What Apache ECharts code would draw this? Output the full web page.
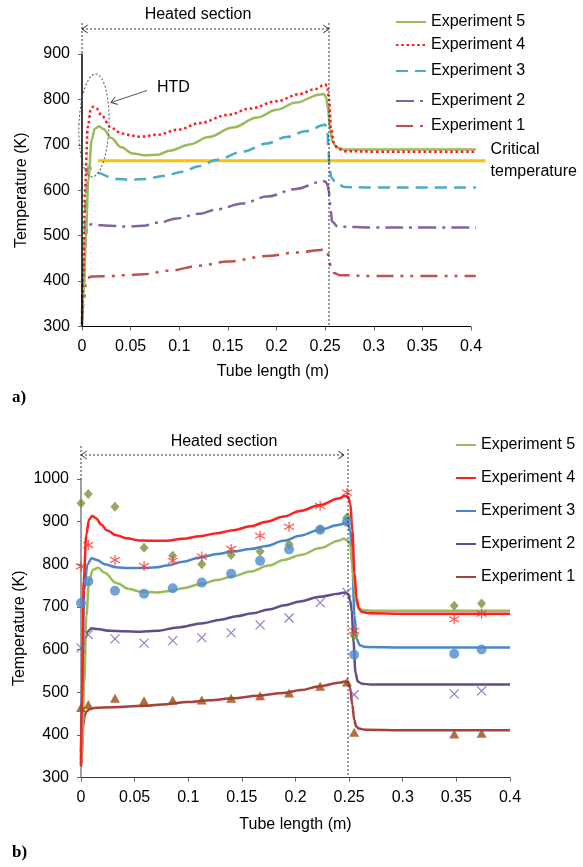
<!DOCTYPE html>
<html><head><meta charset="utf-8">
<script src="https://cdn.jsdelivr.net/npm/echarts@6/dist/echarts.min.js"></script>
<style>html,body{margin:0;padding:0;background:#fff}#c{width:583px;height:867px}</style>
</head><body><div id="c"></div>
<script>
const FONT = '"Liberation Sans", Arial, Helvetica, sans-serif';
const xTickVals = [0, 0.05, 0.1, 0.15, 0.2, 0.25, 0.3, 0.35, 0.4];
// ---------- (a) simulation curves ----------
const a5x = [0, 0.002, 0.004, 0.0065, 0.01, 0.013, 0.0175, 0.022, 0.03, 0.04, 0.052, 0.065, 0.077, 0.09, 0.111, 0.13, 0.155, 0.18, 0.2, 0.22, 0.245, 0.2485, 0.251, 0.253, 0.255, 0.258, 0.262, 0.27, 0.3, 0.35, 0.405];
const a5y = [320, 380, 500, 623, 711, 735, 741, 735, 715, 695, 681, 677, 678, 687, 701, 717, 738, 760, 777, 793, 811, 812, 805, 780, 735, 705, 694, 690, 690, 690, 690];
const a4x = [0, 0.0015, 0.003, 0.006, 0.009, 0.0116, 0.015, 0.02, 0.029, 0.038, 0.046, 0.06, 0.077, 0.1, 0.121, 0.15, 0.173, 0.2, 0.224, 0.24, 0.25, 0.252, 0.254, 0.256, 0.259, 0.263, 0.27, 0.3, 0.35, 0.405];
const a4y = [305, 420, 600, 740, 778, 784, 780, 765, 740, 728, 722, 718, 722, 734, 748, 766, 780, 796, 812, 823, 833, 830, 800, 735, 705, 692, 686, 685, 685, 685];
const a3x = [0, 0.002, 0.004, 0.0065, 0.01, 0.0185, 0.027, 0.036, 0.05, 0.066, 0.085, 0.104, 0.12, 0.139, 0.165, 0.19, 0.21, 0.23, 0.25, 0.252, 0.2535, 0.2545, 0.2567, 0.261, 0.27, 0.3, 0.35, 0.405];
const a3y = [300, 450, 590, 652, 648, 637, 630, 625, 623, 625, 632, 641, 653, 667, 685, 703, 717, 730, 744, 735, 690, 645, 627, 616, 607, 606, 606, 606];
const a2x = [0, 0.002, 0.004, 0.0055, 0.01, 0.02, 0.029, 0.045, 0.063, 0.08, 0.097, 0.12, 0.139, 0.165, 0.19, 0.22, 0.245, 0.25, 0.2525, 0.2535, 0.256, 0.257, 0.263, 0.3, 0.35, 0.405];
const a2y = [330, 420, 500, 523, 525, 523, 522, 520, 522, 529, 538, 548, 558, 571, 586, 603, 618, 620, 612, 600, 553, 531, 520, 518, 518, 518];
const a1x = [0, 0.002, 0.004, 0.006, 0.01, 0.029, 0.045, 0.063, 0.09, 0.121, 0.15, 0.19, 0.22, 0.25, 0.2525, 0.254, 0.256, 0.259, 0.265, 0.3, 0.35, 0.405];
const a1y = [312, 360, 395, 407, 410, 411, 413, 415, 423, 434, 443, 455, 463, 469, 465, 445, 430, 418, 413, 411, 411, 411];
const critX = [0.0165, 0.415];
const critY = [665, 665];
// ---------- (b) simulation curves ----------
const b5x = [0, 0.001, 0.003, 0.005, 0.0075, 0.011, 0.016, 0.022, 0.033, 0.045, 0.055, 0.071, 0.085, 0.095, 0.111, 0.127, 0.142, 0.158, 0.175, 0.189, 0.205, 0.223, 0.24, 0.245, 0.249, 0.251, 0.253, 0.255, 0.257, 0.259, 0.262, 0.27, 0.3, 0.35, 0.4];
const b5y = [330, 350, 520, 680, 760, 787, 792, 780, 756, 742, 736, 734, 738, 744, 753, 763, 772, 783, 797, 810, 822, 838, 855, 860, 855, 845, 800, 740, 710, 698, 693, 691, 691, 691, 691];
const b4x = [0, 0.001, 0.0025, 0.005, 0.0075, 0.0105, 0.014, 0.019, 0.024, 0.033, 0.043, 0.054, 0.064, 0.08, 0.095, 0.111, 0.127, 0.142, 0.158, 0.173, 0.189, 0.204, 0.223, 0.24, 0.246, 0.249, 0.251, 0.253, 0.255, 0.257, 0.259, 0.262, 0.27, 0.3, 0.35, 0.4];
const b4y = [330, 500, 760, 870, 905, 913, 908, 893, 880, 868, 861, 856, 855, 855, 860, 866, 873, 880, 889, 900, 912, 925, 939, 954, 960, 958, 945, 880, 780, 720, 696, 688, 685, 684, 684, 684];
const b3x = [0, 0.001, 0.003, 0.006, 0.01, 0.015, 0.022, 0.033, 0.045, 0.058, 0.07, 0.08, 0.095, 0.111, 0.127, 0.142, 0.158, 0.173, 0.189, 0.204, 0.223, 0.24, 0.246, 0.249, 0.251, 0.253, 0.255, 0.257, 0.26, 0.265, 0.3, 0.35, 0.4];
const b3y = [340, 520, 740, 800, 814, 810, 800, 793, 791, 791, 793, 797, 806, 816, 824, 830, 836, 843, 855, 867, 881, 892, 896, 895, 880, 800, 680, 625, 610, 606, 605, 605, 605];
const b2x = [0, 0.002, 0.004, 0.006, 0.01, 0.015, 0.027, 0.04, 0.055, 0.071, 0.09, 0.114, 0.13, 0.145, 0.16, 0.175, 0.19, 0.204, 0.223, 0.24, 0.246, 0.249, 0.251, 0.2525, 0.254, 0.256, 0.258, 0.262, 0.27, 0.3, 0.4];
const b2y = [360, 560, 625, 642, 650, 648, 644, 643, 642, 644, 652, 662, 670, 678, 685, 694, 704, 713, 724, 731, 734, 730, 715, 690, 620, 545, 525, 520, 518, 518, 518];
const b1x = [0, 0.001, 0.002, 0.0035, 0.005, 0.008, 0.012, 0.03, 0.058, 0.08, 0.099, 0.12, 0.142, 0.165, 0.189, 0.205, 0.223, 0.24, 0.246, 0.249, 0.251, 0.253, 0.2547, 0.2565, 0.259, 0.265, 0.3, 0.4];
const b1y = [326, 380, 420, 445, 455, 460, 463, 465, 468, 472, 477, 481, 486, 492, 498, 505, 514, 522, 525, 523, 510, 470, 436, 420, 415, 412, 411, 411];
// ---------- (b) measured points ----------
const markX = [0, 0.0068, 0.0317, 0.0588, 0.0855, 0.1126, 0.14, 0.167, 0.194, 0.223, 0.248, 0.2547, 0.348, 0.3735];
const m5 = [943, 965, 935, 839, 820, 800, 822, 830, 847, 882, 910, 633, 703, 708];
const m4 = [795, 845, 810, 796, 808, 818, 836, 867, 888, 937, 968, 644, 671, 684];
const m3 = [709, 760, 738, 731, 744, 757, 778, 808, 835, 881, 900, 588, 590, 600];
const m2 = [604, 635, 625, 615, 621, 628, 639, 658, 674, 710, 734, 494, 496, 503];
const m1 = [464, 471, 486, 480, 482, 482, 486, 492, 498, 514, 524, 406, 402, 404];
const labels = {a5:'Experiment 5', a4:'Experiment 4', a3:'Experiment 3', a2:'Experiment 2', a1:'Experiment 1',
                b5:'Experiment 5', b4:'Experiment 4', b3:'Experiment 3', b2:'Experiment 2', b1:'Experiment 1'};

const zip = (xs, ys) => xs.map((x, i) => [x, ys[i]]);
const txt = {fontSize:16, color:'#000', fontFamily:FONT};

function lineS(name, g, xs, ys, color, type, width) {
  return {name, type:'line', xAxisIndex:g, yAxisIndex:g, data:zip(xs, ys), showSymbol:false, symbol:'none',
    smooth:0.35, smoothMonotone:'x', clip:false, animation:false, z:2,
    lineStyle:{color, width:width||2.5, type:type||'solid', cap:'butt'}, itemStyle:{color}};
}
function markS(ys, symbol, size, style) {
  return {type:'scatter', xAxisIndex:1, yAxisIndex:1, data:zip(markX, ys), symbol, symbolSize:size,
    animation:false, z:3, itemStyle:style};
}
const XSYM = 'path://M0,0L10,10M10,0L0,10';
const STAR = 'path://M5,0L5,10M0.5,2.2L9.5,7.8M9.5,2.2L0.5,7.8';

function xAx(g, max, name, gap, lc, showLine, namePad) {
  return {gridIndex:g, type:'value', min:0, max, interval:0.05, name, nameLocation:'middle', nameGap:gap,
    nameTextStyle:Object.assign({padding:namePad}, txt), axisLine:{show:showLine, onZero:false, lineStyle:{color:lc, width:1}},
    axisTick:{show:true, length:4, customValues:xTickVals, lineStyle:{color:'#666'}},
    axisLabel:Object.assign({margin:12, customValues:xTickVals}, txt),
    splitLine:{show:false}};
}
function yAx(g, min, max, lc, gap, z) {
  return {gridIndex:g, type:'value', min, max, interval:100, name:'Temperature (K)', nameLocation:'middle', nameGap:gap,
    z, nameMoveOverlap:false, nameRotate:90, nameTextStyle:txt, axisLine:{show:true, lineStyle:{color:lc, width:1.5}},
    axisTick:{show:true, length:4, lineStyle:{color:'#666'}},
    axisLabel:Object.assign({margin:12, formatter:v => String(v)}, txt),
    splitLine:{show:false}};
}
const legBase = {orient:'vertical', padding:0, itemHeight:14, selectedMode:false, formatter:n => labels[n],
  textStyle:txt, itemStyle:{opacity:0}};
function topLegend(name, top) {
  return Object.assign({}, legBase, {data:[name], left:395, top, itemWidth:30});
}

const option = {
  animation:false,
  backgroundColor:'#fff',
  grid:[{left:82, top:54, width:403.6, height:272.5, outerBoundsMode:'none'},
        {left:81, top:479, width:429, height:298.5, outerBoundsMode:'none'}],
  xAxis:[xAx(0, 0.415, 'Tube length (m)', 37, '#000', false, [0, 22, 0, 0]),
         xAx(1, 0.4, 'Tube length (m)', 39, '#333', true, 0)],
  yAxis:[yAx(0, 300, 900, '#000', 52, 4), yAx(1, 300, 1000, '#808080', 53, 0)],
  legend:[
    topLegend('a5', 14), topLegend('a4', 37), topLegend('a3', 63), topLegend('a2', 93), topLegend('a1', 118),
    Object.assign({}, legBase, {data:['b5','b4','b3','b2','b1'], left:455, top:437, itemWidth:20, itemGap:17})
  ],
  series:[
    Object.assign(lineS('crit', 0, critX, critY, '#FFC000', 'solid', 3), {smooth:false,
      endLabel:{show:true, formatter:'Critical\ntemperature', distance:5, align:'left', verticalAlign:'middle',
        lineHeight:22, fontSize:16, color:'#000', fontFamily:FONT},
      markLine:{silent:true, symbol:['none','none'], label:{show:false}, animation:false,
        lineStyle:{color:'#000', type:'solid', width:1},
        data:[[{coord:[xTickVals[0], 300]}, {coord:[xTickVals[xTickVals.length - 1], 300]}]]}}),
    lineS('a1', 0, a1x, a1y, '#C0504D', [17, 7, 3, 7, 3, 7]),
    lineS('a2', 0, a2x, a2y, '#8064A2', [18, 6, 3, 6]),
    lineS('a3', 0, a3x, a3y, '#4BACC6', [12, 7]),
    lineS('a5', 0, a5x, a5y, '#9BBB59', 'solid'),
    lineS('a4', 0, a4x, a4y, '#FF1A1A', [2.5, 2.8]),
    lineS('b1', 1, b1x, b1y, '#A8403C'),
    lineS('b2', 1, b2x, b2y, '#634C8C'),
    lineS('b3', 1, b3x, b3y, '#4A86C8'),
    lineS('b5', 1, b5x, b5y, '#9BBB59'),
    lineS('b4', 1, b4x, b4y, '#FF1F1F'),
    markS(m1, 'triangle', [10, 9], {color:'#9C4A17'}),
    markS(m2, XSYM, 9, {color:'rgba(0,0,0,0)', borderColor:'#7E5BB0', borderWidth:1.2}),
    markS(m5, 'diamond', [9, 10], {color:'#77933C'}),
    markS(m3, 'circle', 10, {color:'#4F8BD0'}),
    markS(m4, STAR, 10, {color:'rgba(0,0,0,0)', borderColor:'#FF2A2A', borderWidth:1.2})
  ]
};

const chart = echarts.init(document.getElementById('c'), null, {renderer:'canvas'});
chart.setOption(option);

// ---------- annotations ----------
const P = (g, x, y) => chart.convertToPixel({gridIndex:g}, [x, y]);
const DOT = {stroke:'#333', lineWidth:1, lineDash:[2, 2], fill:null};
const SOLID = {stroke:'#333', lineWidth:1, fill:null};
function seg(x1, y1, x2, y2, st) { return {type:'line', silent:true, z:10, shape:{x1, y1, x2, y2}, style:Object.assign({}, st)}; }
function head(tx, ty, dx, dy, L) {
  const n = Math.hypot(dx, dy), ux = dx / n, uy = dy / n, a = 0.6;
  const c = Math.cos(a), s = Math.sin(a);
  const r1 = [ux * c - uy * s, ux * s + uy * c], r2 = [ux * c + uy * s, -ux * s + uy * c];
  return {type:'polyline', silent:true, z:10, shape:{points:[[tx - L * r1[0], ty - L * r1[1]], [tx, ty], [tx - L * r2[0], ty - L * r2[1]]]},
    style:Object.assign({}, SOLID)};
}
function label(text, x, y, extra) {
  return {type:'text', silent:true, z:10, x, y, style:Object.assign({text, fill:'#000', font:'16px ' + FONT,
    align:'center', verticalAlign:'middle'}, extra || {})};
}
const g = [];
// (a)
const aTL = P(0, 0, 900), aBL = P(0, 0, 300), aHE = P(0, 0.254, 300);
const ayA = aTL[1] - 25;
g.push(seg(aTL[0], aTL[1] - 31, aTL[0], aTL[1], DOT));
g.push(seg(aHE[0], aTL[1] - 31, aHE[0], aBL[1], DOT));
g.push(seg(aTL[0], ayA, aHE[0], ayA, DOT));
g.push(head(aTL[0], ayA, -1, 0, 7), head(aHE[0], ayA, 1, 0, 7));
g.push(label('Heated section', aTL[0] + 116, aTL[1] - 39));
const eC = P(0, 0.0123, 743);
g.push({type:'ellipse', silent:true, z:10, x:eC[0], y:eC[1], rotation:-0.035, shape:{cx:0, cy:0, rx:15, ry:51.5},
  style:{stroke:'#555', lineWidth:1, lineDash:[2, 2], fill:null}});
const hs = [eC[0] + 53, eC[1] - 34.8], he = [eC[0] + 17, eC[1] - 22.8];
g.push(seg(hs[0], hs[1], he[0], he[1], {stroke:'#555', lineWidth:1, fill:null}));
g.push(head(he[0], he[1], he[0] - hs[0], he[1] - hs[1], 7));
g.push(label('HTD', eC[0] + 63, eC[1] - 37.5, {align:'left'}));
g.push({type:'text', silent:true, z:10, x:12, y:398, style:{text:'a)', fill:'#000', font:'bold 17px "Liberation Serif", serif', align:'left', verticalAlign:'middle'}});
// (b)
const bTL = P(1, 0, 1000), bBL = P(1, 0, 300), bHE = P(1, 0.249, 300);
const byA = bTL[1] - 24;
g.push(seg(bTL[0], bTL[1] - 33, bTL[0], bTL[1], DOT));
g.push(seg(bHE[0], bTL[1] - 30, bHE[0], bBL[1], DOT));
g.push(seg(bTL[0], byA, bHE[0] - 4, byA, DOT));
g.push(head(bTL[0], byA, -1, 0, 7), head(bHE[0] - 4, byA, 1, 0, 7));
g.push(label('Heated section', bTL[0] + 143, bTL[1] - 37));
g.push({type:'text', silent:true, z:10, x:12, y:853, style:{text:'b)', fill:'#000', font:'bold 17px "Liberation Serif", serif', align:'left', verticalAlign:'middle'}});
chart.setOption({graphic:g});
</script></body></html>
